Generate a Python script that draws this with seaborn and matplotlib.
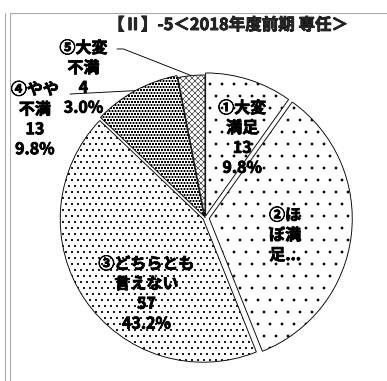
import numpy as np
import matplotlib.pyplot as plt
import matplotlib.patheffects as pe
from matplotlib.lines import Line2D
import seaborn as sns

# data
title = '【Ⅱ】-5＜2018年度前期 専任＞'
names = ['①大変\n満足', '②ほ\nぼ満\n足...', '③どちらとも\n言えない', '④やや\n不満', '⑤大変\n不満']
counts = [13, 45, 57, 13, 4]
percents = ['9.8%', '34.1%', '43.2%', '9.8%', '3.0%']
show_values = [True, False, True, True, True]

hatches = ['.', '.', '..', 'oooo', 'xxxx']
hatch_lw = [0.3, 0.3, 0.9, 0.6, 0.5]
explode = [0.015, 0.03, 0.015, 0.015, 0.0]
# label centres in pie units (radius = 1)
label_pos = [(0.26, 0.56), (0.56, -0.12), (-0.41, -0.53), (-1.19, 0.69), (-0.85, 0.98)]

sns.set_theme(style="white")
plt.rcParams['font.family'] = ['Noto Sans CJK JP', 'DejaVu Sans']
plt.rcParams['hatch.linewidth'] = 0.5

DPI = 72
fig = plt.figure(figsize=(387 / DPI, 381 / DPI), dpi=DPI)
fig.patch.set_facecolor('white')

# frame lines of the original sheet
gray = '#a8a8a8'
fig.add_artist(Line2D([5 / 387, 5 / 387], [0, 1 - 13 / 381], color=gray, lw=1))
fig.add_artist(Line2D([10 / 387, 10 / 387], [0, 1 - 13 / 381], color=gray, lw=1))
fig.add_artist(Line2D([10 / 387, 1], [1 - 13 / 381, 1 - 13 / 381], color=gray, lw=1))

ax = fig.add_axes([62 / 387, 20 / 381, 286 / 387, 286 / 381])
wedges, _ = ax.pie(counts, startangle=90, counterclock=False, explode=explode,
                   colors=['white'] * len(counts),
                   wedgeprops=dict(edgecolor='black', linewidth=0.9))
for w, h, lw in zip(wedges, hatches, hatch_lw):
    w.set_hatch(h)
    if hasattr(w, 'set_hatch_linewidth'):
        w.set_hatch_linewidth(lw)
    w.set_clip_on(False)
ax.set_xlim(-1, 1)
ax.set_ylim(-1, 1)
ax.axis('off')

bold = [pe.withStroke(linewidth=0.8, foreground='black')]
for i, (x, y) in enumerate(label_pos):
    txt = names[i]
    if show_values[i]:
        txt = txt + '\n' + str(counts[i]) + '\n' + percents[i]
    ax.text(x, y, txt, ha='center', va='center', fontsize=16, fontweight='bold',
            linespacing=1.3, color='black', path_effects=bold)

# leader lines for the two small outside slices
def arc_point(w):
    mid = np.deg2rad((w.theta1 + w.theta2) / 2)
    cx, cy = w.center
    return cx + np.cos(mid), cy + np.sin(mid)

px, py = arc_point(wedges[4])
ax.plot([-0.615, -0.57, px], [1.182, 1.182, py], color='black', lw=0.9, clip_on=False)
px, py = arc_point(wedges[3])
ax.plot([-0.944, px], [0.867, py], color='black', lw=0.9, clip_on=False)

fig.text(228 / 387, 1 - 25 / 381, title, ha='center', va='center',
         fontsize=16.5, fontweight='bold', path_effects=bold)

fig.savefig('out.png', dpi=DPI)
